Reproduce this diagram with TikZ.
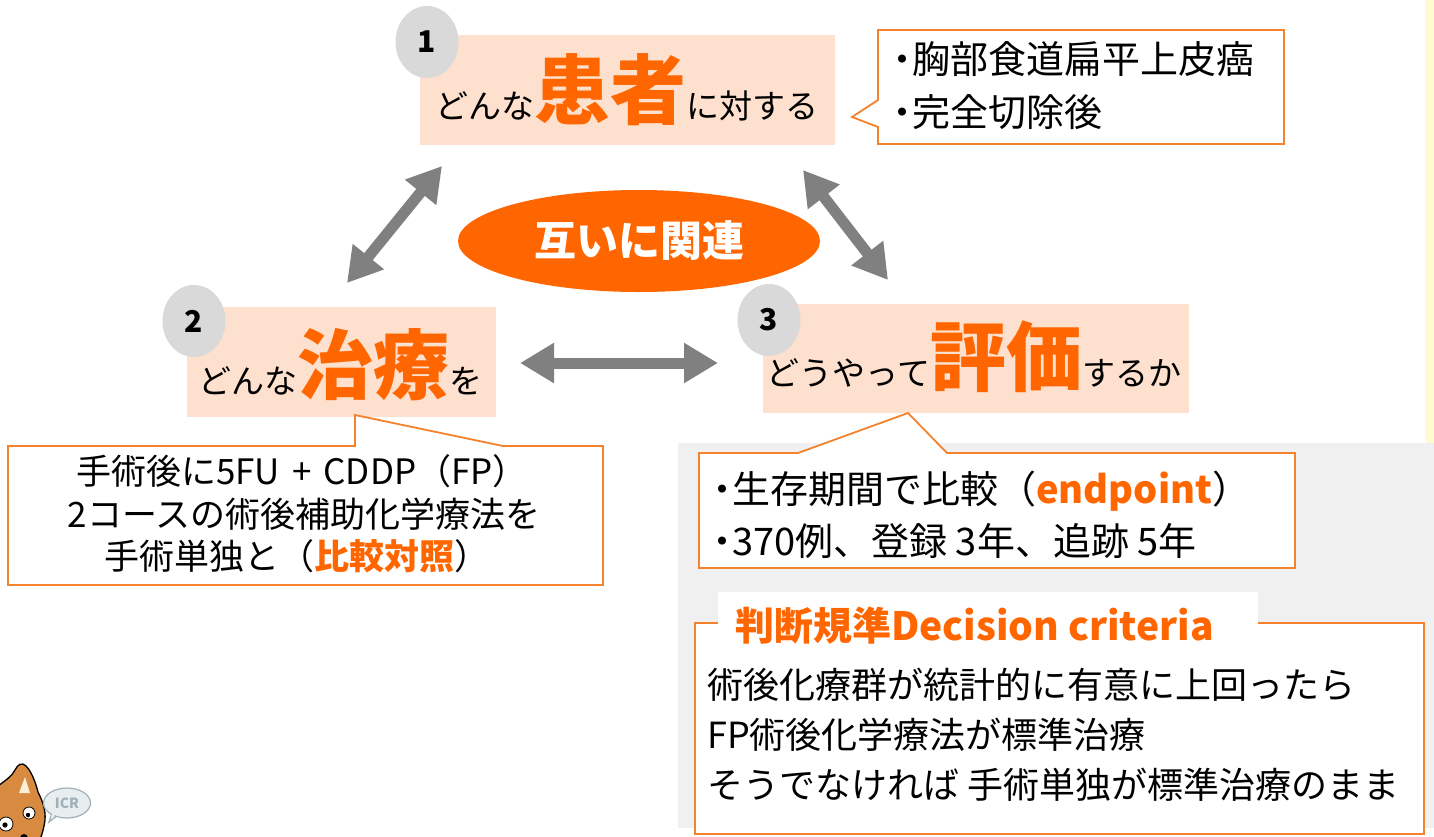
\documentclass[tikz,border=0pt]{standalone}
\usepackage{fontspec}
\setmainfont{Noto Sans CJK JP}
\usetikzlibrary{shapes.geometric,arrows.meta}
\definecolor{peach}{HTML}{FDE0CD}
\definecolor{orng}{HTML}{FF6600}
\definecolor{bord}{HTML}{F5822D}
\definecolor{numgray}{HTML}{D9D9D9}
\definecolor{arrgray}{HTML}{808080}
\definecolor{panel}{HTML}{F0F0F0}
\definecolor{ystrip}{HTML}{FFFAD4}
\definecolor{dogbrown}{HTML}{D88B40}
\definecolor{earcream}{HTML}{FBEFD8}
\definecolor{bubblefill}{HTML}{E8EDF0}
\definecolor{bubbleline}{HTML}{9FB0B6}
\newcommand\bigword[1]{{\fontsize{76}{80}\selectfont\bfseries\color{orng}#1}}
\newcommand\orb[1]{{\bfseries\color{orng}#1}}
\newcommand\bul{\makebox[0.5em][c]{・}}
\begin{document}
\begin{tikzpicture}[x=1pt,y=-1pt,
  pbox/.style={rectangle, fill=peach, draw=none, inner sep=0},
  numc/.style={ellipse, fill=numgray, inner sep=0, minimum width=63pt, minimum height=72pt,
    font=\fontsize{30}{30}\selectfont\bfseries},
  lbl/.style={anchor=base, inner sep=0, font=\fontsize{33}{33}\selectfont},
  callout/.style={draw=bord, line width=1.8pt, fill=white, line join=miter},
  dbl/.style={draw=arrgray, line width=11pt,
    {Triangle[width=38pt,length=34pt]}-{Triangle[width=38pt,length=34pt]}},
  txt/.style={anchor=base west, inner sep=0, font=\fontsize{36}{36}\selectfont},
  ctxt/.style={anchor=base, inner sep=0, font=\fontsize{35}{35}\selectfont}
]
\useasboundingbox (0,0) rectangle (1434,836);
\fill[white] (0,0) rectangle (1434,836);

% side strip and grey panel behind the evaluation notes
\fill[ystrip] (1425,0) rectangle (1434,443);
\fill[panel] (678,443) rectangle (1434,828);

% the three question boxes
\node[pbox, minimum width=415pt, minimum height=110pt] (b1) at (627.5,90) {};
\node[pbox, minimum width=309pt, minimum height=110pt] (b2) at (341.5,362) {};
\node[pbox, minimum width=426pt, minimum height=109pt] (b3) at (976,358.5) {};

\node[lbl] (t1) at (627,118) {どんな\bigword{患者}に対する};
\node[lbl] (t2) at (340,393) {どんな\bigword{治療}を};
\node[lbl] (t3) at (974,385) {どうやって\bigword{評価}するか};

% numbered badges
\node[numc] (n1) at (427,42) {1};
\node[numc] (n2) at (194,321) {2};
\node[numc] (n3) at (769,320) {3};

% central relation ellipse
\node[ellipse, fill=orng, minimum width=362pt, minimum height=102pt, inner sep=0,
  text=white, font=\fontsize{42}{42}\selectfont\bfseries] (rel) at (639,241) {互いに関連};

% double-headed arrows between the boxes
\coordinate (a1) at (442,166); \coordinate (a2) at (347,283);
\coordinate (a3) at (803,170); \coordinate (a4) at (888,280);
\coordinate (a5) at (520,363); \coordinate (a6) at (718,363);
\draw[dbl] (a1) -- (a2);
\draw[dbl] (a3) -- (a4);
\draw[dbl] (a5) -- (a6);

% callout for the patients
\draw[callout] (878,30) -| (1284,144) -| (878,127) -- (852,117) -- (878,100) -- cycle;
\node[txt, font=\fontsize{38}{38}\selectfont] (c1a) at (893,73) {\bul 胸部食道扁平上皮癌};
\node[txt, font=\fontsize{38}{38}\selectfont] (c1b) at (893,126) {\bul 完全切除後};

% callout for the treatment
\draw[callout] (8,446) -- (355,446) -- (355,415) -- (503,446) -- (603,446)
  -- (603,585) -- (8,585) -- cycle;
\node[ctxt] (c2a) at (302,484) {手術後に5FU\hspace{12pt}+\hspace{12pt}CDDP（FP）};
\node[ctxt] (c2b) at (304,527) {2コースの術後補助化学療法を};
\node[ctxt] (c2c) at (297,569) {手術単独と（\orb{比較対照}）};

% callout for the evaluation
\draw[callout] (699,453) -- (798,453) -- (908,413) -- (947,453) -- (1295,453)
  -- (1295,568) -- (699,568) -- cycle;
\node[txt, font=\fontsize{38}{38}\selectfont] (c3a) at (713,503) {\bul 生存期間で比較（\orb{endpoint}）};
\node[txt, font=\fontsize{38}{38}\selectfont] (c3b) at (713,555) {\bul 370例、登録 3年、追跡 5年};

% decision criteria box with its title tab
\draw[callout] (695,623) rectangle (1424,834);
\fill[white] (718,592) rectangle (1258,652);
\node[txt, font=\fontsize{39}{39}\selectfont\bfseries, text=orng] (dt) at (735,640) {判断規準Decision criteria};
\node[txt] (d1) at (707,698) {術後化療群が統計的に有意に上回ったら};
\node[txt] (d2) at (707,748) {FP術後化学療法が標準治療};
\node[txt] (d3) at (707,798) {そうでなければ 手術単独が標準治療のまま};

% mascot in the lower left corner
\filldraw[fill=dogbrown, draw=black, line width=1.3pt]
  (-2,786) .. controls (6,780) and (12,776) .. (15,770)
  .. controls (18,764) and (22,762) .. (26,766)
  .. controls (32,772) and (36,784) .. (38,792)
  .. controls (42,800) and (46,810) .. (45,820)
  .. controls (44,828) and (42,834) .. (40,840) -- (-2,840) -- cycle;
\fill[earcream] (19,793) -- (25,777) -- (30,793) -- cycle;
\filldraw[fill=white, draw=black, line width=0.8pt] (6,824) circle (7);
\filldraw[fill=white, draw=black, line width=0.8pt] (29,813) circle (6);
\fill[black] (5,825) circle (2.6);
\fill[black] (28,815) circle (2.2);
\fill[black] (24,838) circle (4);
\filldraw[fill=bubblefill, draw=bubbleline, line width=1.2pt]
  (52,813) -- (49,822) -- (58,815);
\node[ellipse, fill=bubblefill, draw=bubbleline, line width=1.2pt, minimum width=47pt,
  minimum height=30pt, inner sep=0, text=bubbleline,
  font=\fontsize{14}{14}\selectfont\bfseries] (icr) at (67,803) {ICR};
\fill[bubblefill] (53,811) -- (51,818) -- (58,813) -- cycle;
\end{tikzpicture}
\end{document}
